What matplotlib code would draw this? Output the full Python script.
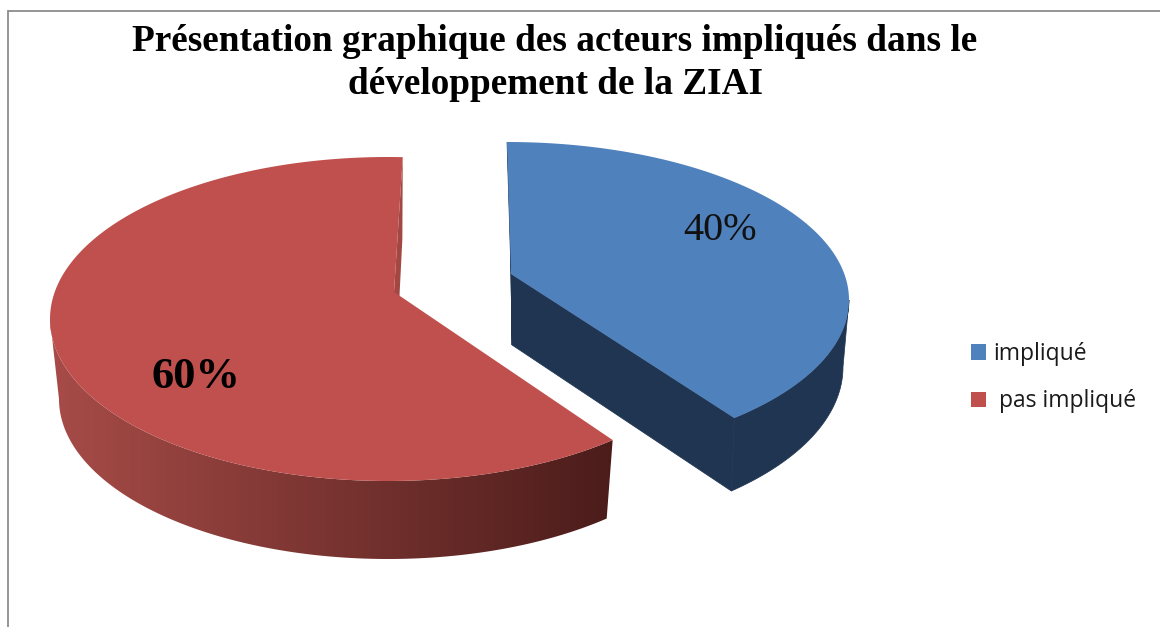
import numpy as np
import matplotlib
matplotlib.use('Agg')
import matplotlib.pyplot as plt
from matplotlib.patches import Patch, Polygon

# chart data
labels = ['impliqué', ' pas impliqué']
values = [40, 60]
value_labels = ['40%', '60%']
top_colors = ['#4F81BD', '#C0504D']
side_colors = ['#1F3552', None]

# ellipses of the 3D pie in pixels: (cx, cy, a, b)
rims = [(507, 300, 342, 158), (388, 319, 338, 162)]
floors = [(510, 367, 333, 166), (388, 399, 329, 160)]
apex_top = [(511, 274), (394, 292)]
apex_bottom = [(512, 345), (396, 365)]


def warp(angle):
    # perspective squeezes the angles a bit
    rad = np.radians(angle)
    return angle + 7 * np.sin(2 * rad) + 2.5 * angle / 360


def arc(ellipse, start, stop, n=200):
    cx, cy, a, b = ellipse
    t = np.radians(np.linspace(start, stop, n))
    return np.column_stack([cx + a * np.sin(t), cy - b * np.cos(t)])


fig = plt.figure(figsize=(11.6, 6.27), dpi=100)
ax = fig.add_axes([0, 0, 1, 1])
ax.set_xlim(0, 1160)
ax.set_ylim(627, 0)
ax.axis('off')

# outer frame, only left and top are visible
ax.plot([8, 8, 1160], [627, 11, 11], color='#8C8C8C', lw=1.3, solid_joinstyle='miter')

bounds = np.cumsum([0] + values) / sum(values) * 360

for i in range(len(values)):
    start = warp(bounds[i])
    stop = warp(bounds[i + 1])
    rim = rims[i]
    floor = floors[i]

    if i == 0:
        # blue slice: both cut faces and outer wall in one dark colour
        face = np.array([arc(rim, start, start, 1)[0], arc(floor, start, start, 1)[0],
                         apex_bottom[i], apex_top[i]])
        ax.add_patch(Polygon(face, fc=side_colors[i], ec=side_colors[i], lw=0.5, zorder=2))
        face = np.array([apex_top[i], apex_bottom[i], arc(floor, stop, stop, 1)[0],
                         arc(rim, stop, stop, 1)[0]])
        ax.add_patch(Polygon(face, fc=side_colors[i], ec=side_colors[i], lw=0.5, zorder=2))
        wall = np.vstack([arc(rim, 90, stop), arc(floor, stop, 90)])
        ax.add_patch(Polygon(wall, fc=side_colors[i], ec=side_colors[i], lw=0.5, zorder=2))
    else:
        # red slice: small cut face at the top, shaded wall in front
        face = np.array([arc(rim, stop, stop, 1)[0], arc(floor, stop, stop, 1)[0],
                         apex_bottom[i], apex_top[i]])
        ax.add_patch(Polygon(face, fc='#A34743', ec='none', zorder=2))
        wall = np.vstack([arc(rim, start, 270), arc(floor, 270, start)])
        clip = Polygon(wall, fc='none', ec='none', transform=ax.transData)
        ax.add_patch(clip)
        shade = np.linspace(0, 1, 256).reshape(1, -1)
        cmap = matplotlib.colors.LinearSegmentedColormap.from_list('side', ['#A84C48', '#4A1C1A'])
        img = ax.imshow(shade, cmap=cmap, extent=[45, 620, 600, 300], aspect='auto', zorder=2)
        img.set_clip_path(clip)
        ax.set_xlim(0, 1160)
        ax.set_ylim(627, 0)

    top = np.vstack([[apex_top[i]], arc(rim, start, stop)])
    ax.add_patch(Polygon(top, fc=top_colors[i], ec='none', zorder=3))

# value labels
serif = 'Liberation Serif'
ax.text(720, 240, value_labels[0], family=serif, fontsize=29, ha='center', va='baseline', color='#111111', zorder=4)
ax.text(196, 388, value_labels[1], family=serif, fontsize=32, fontweight='bold', ha='center', va='baseline', color='black', zorder=4)

# title
ax.text(555, 94, 'Présentation graphique des acteurs impliqués dans le\ndéveloppement de la ZIAI',
        family=serif, fontsize=26.85, fontweight='bold', ha='center', va='baseline',
        multialignment='center', linespacing=1.3, color='black')

# legend
handles = [Patch(fc=c, ec='none') for c in top_colors]
ax.legend(handles, labels, loc='upper left', bbox_to_anchor=(971, 342), bbox_transform=ax.transData,
          frameon=False, prop={'family': 'Open Sans', 'size': 16.5}, handlelength=0.65, handleheight=0.65,
          handletextpad=0.3, labelspacing=1.02, borderpad=0, borderaxespad=0, labelcolor='#1A1A1A')

fig.savefig('out.png', dpi=100)
